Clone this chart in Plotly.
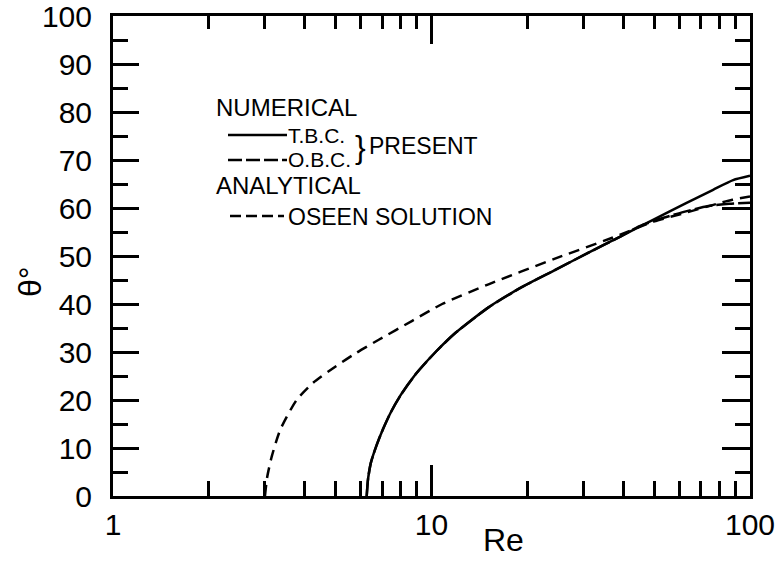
import math
import plotly.graph_objects as go

# Separation angle vs Reynolds number
re_tbc = [6.26, 6.32, 6.45, 6.70, 7.05, 7.46, 8.0, 8.9, 10.3, 11.9, 15.1, 19.2, 24.3,
          30.9, 39.3, 49.8, 63.0, 76.6, 88.5, 100.0]
theta_tbc = [0.0, 3.5, 6.9, 10.3, 14.0, 17.5, 21.0, 25.3, 30.0, 34.0, 39.3, 43.5, 47.0,
             50.6, 54.1, 57.6, 61.0, 63.8, 65.8, 66.7]

re_obc = [6.26, 6.32, 6.45, 6.70, 7.05, 7.46, 8.0, 8.9, 10.3, 11.9, 15.1, 19.2, 24.3,
          30.9, 39.3, 45.0, 52.0, 62.0, 74.0, 86.0, 100.0]
theta_obc = [0.0, 3.5, 6.9, 10.3, 14.0, 17.5, 21.0, 25.3, 30.0, 34.0, 39.3, 43.5, 47.0,
             50.6, 54.1, 56.2, 57.7, 59.2, 60.4, 60.9, 61.1]

re_oseen = [3.0, 3.05, 3.15, 3.35, 3.77, 4.25, 5.0, 5.8, 6.85, 8.7, 10.8, 15.1, 24.3,
            36.6, 50.0, 62.0, 79.0, 88.0, 100.0]
theta_oseen = [0.0, 4.0, 8.2, 13.8, 20.0, 23.6, 27.0, 29.8, 32.6, 36.5, 40.0, 44.1, 49.4,
               53.7, 57.2, 58.9, 60.9, 61.7, 62.4]

x_ticks = [1, 10, 100]
x_minor = [2, 3, 4, 5, 6, 7, 8, 9, 20, 30, 40, 50, 60, 70, 80, 90]
y_ticks = list(range(0, 101, 10))
y_minor = list(range(5, 100, 10))

FONT = "Liberation Sans"
INK = "black"

W, H = 783, 562
L, R, T, B = 113, 33, 16, 66
PW, PH = W - L - R, H - T - B


def px(x):
    return (x - L) / PW


def py(y):
    return (H - B - y) / PH


def lg(vals):
    return [math.log10(v) for v in vals]


fig = go.Figure()
fig.add_trace(go.Scatter(x=re_obc, y=theta_obc, mode="lines", name="O.B.C.",
                         line=dict(color=INK, width=2.5, dash="18px,4px"),
                         line_shape="spline", line_smoothing=0.6))
fig.add_trace(go.Scatter(x=re_tbc, y=theta_tbc, mode="lines", name="T.B.C.",
                         line=dict(color=INK, width=2.5),
                         line_shape="spline", line_smoothing=0.6))
fig.add_trace(go.Scatter(x=re_oseen, y=theta_oseen, mode="lines", name="OSEEN SOLUTION",
                         line=dict(color=INK, width=2.5, dash="11px,7px"),
                         line_shape="spline", line_smoothing=0.6))
# invisible carriers for the tick-only axes (decade axes work in log10 units)
for xa, ya in (("x2", "y2"), ("x3", "y3"), ("x4", "y4")):
    fig.add_trace(go.Scatter(x=lg(re_oseen), y=theta_oseen, mode="lines",
                             xaxis=xa, yaxis=ya, line=dict(width=0), opacity=0,
                             hoverinfo="skip"))

tick_font = dict(family=FONT, size=30, color=INK)


def tick_axis(kind, side, anchor, vals, length, width=2.5):
    ax = dict(overlaying=kind, side=side, anchor=anchor, tickmode="array",
              ticks="inside", ticklen=length, tickwidth=width, tickcolor=INK,
              showticklabels=False, showgrid=False, zeroline=False,
              showline=False, automargin=False)
    if kind == "x":
        ax.update(range=[0, 2], tickvals=lg(vals))
    else:
        ax.update(range=[0, 100], tickvals=vals)
    return ax


fig.update_layout(
    xaxis=dict(type="log", range=[0, 2], tickmode="array", tickvals=x_ticks,
               ticktext=[str(v) for v in x_ticks], ticks="inside", ticklen=31,
               tickwidth=2.5, tickcolor=INK, tickfont=tick_font, ticklabelstandoff=0,
               showgrid=False, zeroline=False, showline=True, linecolor=INK,
               linewidth=3, mirror=True, automargin=False),
    yaxis=dict(range=[0, 100], tickmode="array", tickvals=y_ticks,
               ticktext=[str(v) for v in y_ticks], ticks="inside", ticklen=26,
               tickwidth=2.5, tickcolor=INK, tickfont=tick_font, ticklabelstandoff=12,
               ticklabeloverflow="allow", showgrid=False, zeroline=False,
               showline=True, linecolor=INK, linewidth=3, mirror=True,
               automargin=False,
               minor=dict(tickmode="array", tickvals=y_minor, ticks="inside",
                          ticklen=15, tickwidth=2.5, tickcolor=INK)),
    # top: long decade ticks and short intermediate ticks; right: 10s and 5s
    xaxis2=tick_axis("x", "top", "y2", x_ticks, 28),
    yaxis2=tick_axis("y", "right", "x2", y_ticks, 28),
    xaxis3=tick_axis("x", "top", "y3", x_minor, 13),
    yaxis3=tick_axis("y", "right", "x3", y_minor, 15),
    # bottom intermediate ticks
    xaxis4=tick_axis("x", "bottom", "y4", x_minor, 15),
    yaxis4=tick_axis("y", "left", "x4", [], 1),
)

# Legend block drawn as text and line samples
legend_lines = [
    (228, 287, 135, "solid"),
    (228, 287, 160, "14px,4px"),
    (230, 284, 216, "11px,5px"),
]
shapes = []
for x0, x1, y0, dash in legend_lines:
    shapes.append(dict(type="line", xref="paper", yref="paper",
                       x0=px(x0), x1=px(x1), y0=py(y0), y1=py(y0),
                       line=dict(color=INK, width=2.5, dash=dash)))

ann = []


def text(x, y, s, size=23, xanchor="left", angle=0):
    ann.append(dict(x=px(x), y=py(y), xref="paper", yref="paper", text=s,
                    showarrow=False, xanchor=xanchor, yanchor="middle",
                    textangle=angle, font=dict(family=FONT, size=size, color=INK)))


text(214, 107, "NUMERICAL", 24)
text(286, 135, "T.B.C.", 21)
text(286, 159, "O.B.C.", 21)
text(353, 147, "}", 32)
text(367, 146, "PRESENT", 23)
text(214, 186, "ANALYTICAL", 24)
text(286, 217, "OSEEN SOLUTION", 23)

# Axis titles
text(503, 540, "Re", 32, xanchor="center")
text(30, 282, "θ°", 32, xanchor="center", angle=-90)

fig.update_layout(width=W, height=H, margin=dict(l=L, r=R, t=T, b=B),
                  paper_bgcolor="white", plot_bgcolor="white",
                  shapes=shapes, annotations=ann, showlegend=False)

fig.write_html("out.html")
